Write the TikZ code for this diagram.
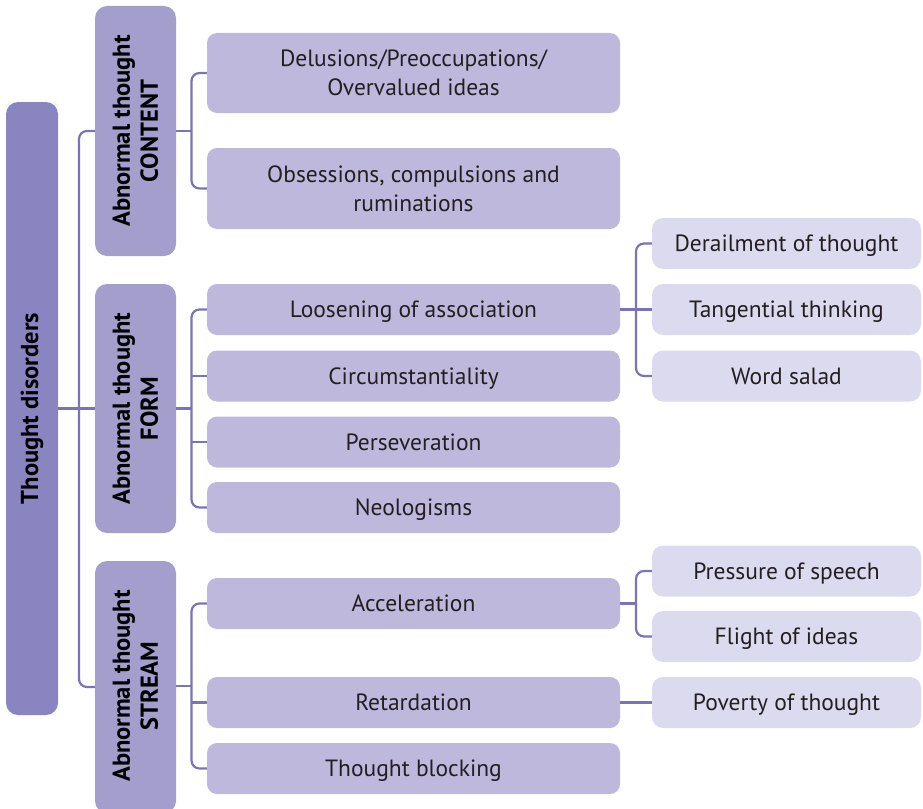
\documentclass[tikz,border=0pt]{standalone}
\usepackage{fontspec}
\setmainfont{PT Sans}
\definecolor{rootc}{HTML}{8A85C0}
\definecolor{lvone}{HTML}{A49ECD}
\definecolor{lvtwo}{HTML}{BDB8DC}
\definecolor{lvthree}{HTML}{DCDAEE}
\definecolor{linec}{HTML}{7A73B8}
\definecolor{txt}{HTML}{231F20}
\begin{document}
\begin{tikzpicture}[x=1pt,y=-1pt,
  rootbox/.style={fill=rootc,rounded corners=12pt,inner sep=0pt,minimum width=52pt,minimum height=613pt},
  onebox/.style={fill=lvone,rounded corners=12pt,inner sep=0pt,minimum width=81pt},
  twobox/.style={fill=lvtwo,rounded corners=10pt,inner sep=0pt,minimum width=413pt,text=txt,align=center,text depth=0pt,font=\fontsize{23.5}{29}\selectfont},
  threebox/.style={fill=lvthree,rounded corners=11pt,inner sep=0pt,minimum width=269pt,minimum height=51pt,text=txt,align=center,text depth=0pt,font=\fontsize{23.5}{29}\selectfont},
  vlabel/.style={rotate=90,align=center,font=\fontsize{24.5}{28}\bfseries\selectfont,text=black,inner sep=0pt},
  conn/.style={draw=linec,line width=2.2pt,rounded corners=8pt}]
\useasboundingbox (0,0) rectangle (923,808);
% root
\node[rootbox] (root) at (32,408.5) {};
\node[vlabel] (rootlabel) at (root) {Thought disorders};
% level one
\node[onebox,minimum height=250pt] (content) at (135.5,131) {};
\node[vlabel] (contentlabel) at (content) {Abnormal thought\\CONTENT};
\node[onebox,minimum height=249pt] (form) at (135.5,408.5) {};
\node[vlabel] (formlabel) at (form) {Abnormal thought\\FORM};
\node[onebox,minimum height=252pt] (stream) at (135.5,687) {};
\node[vlabel] (streamlabel) at (135.5,686) {Abnormal thought\\STREAM};
% level two
\node[twobox,minimum height=80pt] (del) at (413.5,73) {Delusions/Preoccupations/\\Overvalued ideas};
\node[twobox,minimum height=81pt] (obs) at (413.5,188.5) {Obsessions, compulsions and\\ruminations};
\node[twobox,minimum height=51pt] (loos) at (413.5,309.5) {Loosening of association};
\node[twobox,minimum height=51pt] (circ) at (413.5,376) {Circumstantiality};
\node[twobox,minimum height=51pt] (pers) at (413.5,442) {Perseveration};
\node[twobox,minimum height=51pt] (neo) at (413.5,507.5) {Neologisms};
\node[twobox,minimum height=51pt] (acc) at (413.5,603.5) {Acceleration};
\node[twobox,minimum height=51pt] (ret) at (413.5,702.5) {Retardation};
\node[twobox,minimum height=51pt] (block) at (413.5,768.5) {Thought blocking};
% level three
\node[threebox] (der) at (786.5,243.5) {Derailment of thought};
\node[threebox] (tang) at (786.5,309.5) {Tangential thinking};
\node[threebox] (word) at (786.5,376) {Word salad};
\node[threebox] (press) at (786.5,571) {Pressure of speech};
\node[threebox] (flight) at (786.5,636.5) {Flight of ideas};
\node[threebox] (pov) at (786.5,702.5) {Poverty of thought};
% junction coordinates
\coordinate (t1) at (79,408.5);
\coordinate (c1) at (191.5,131);
\coordinate (f1) at (191.5,408.5);
\coordinate (s1) at (191.5,686);
\coordinate (l1) at (636,309.5);
\coordinate (a1) at (636,603.5);
% connectors
\draw[conn] (content.west) -| (t1) |- (stream.west);
\draw[conn] (root.east) -- (form.west);
\draw[conn] (del.west) -| (c1) |- (obs.west);
\draw[conn] (content.east) -- (c1);
\draw[conn] (loos.west) -| (f1) |- (neo.west);
\draw[conn] (form.east) -- (f1);
\draw[conn] (circ.west -| f1) -- (circ.west);
\draw[conn] (pers.west -| f1) -- (pers.west);
\draw[conn] (acc.west) -| (s1) |- (block.west);
\draw[conn] (stream.east |- s1) -- (s1);
\draw[conn] (ret.west -| s1) -- (ret.west);
\draw[conn] (der.west) -| (l1) |- (word.west);
\draw[conn] (loos.east) -- (tang.west);
\draw[conn] (press.west) -| (a1) |- (flight.west);
\draw[conn] (acc.east) -- (a1);
\draw[conn] (ret.east) -- (pov.west);
\end{tikzpicture}
\end{document}
